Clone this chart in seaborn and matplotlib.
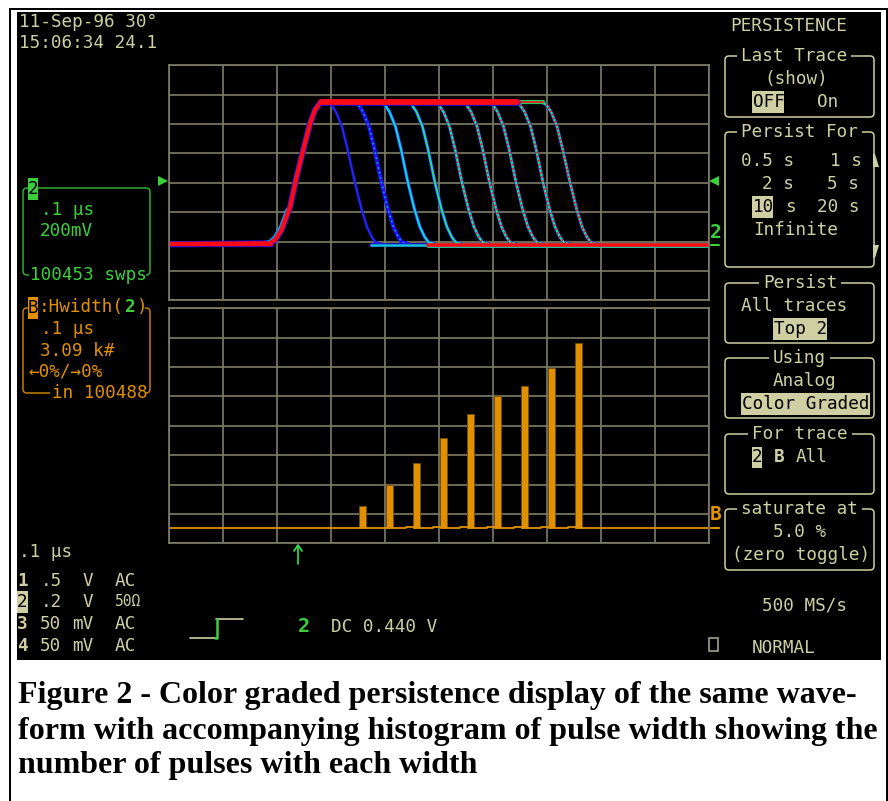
import seaborn as sns
import matplotlib
matplotlib.use('Agg')
import matplotlib.pyplot as plt
from matplotlib.patches import Rectangle, FancyBboxPatch, Polygon

# screen values: time in ns (0.1 us/div), trace in mV (200 mV/div), histogram in counts (3.09 k/div)
rise_ns = [0, 188, 197, 209, 225, 237, 250, 262, 271, 280, 290]
rise_mv = [0, 7, 29, 97, 256, 460, 653, 823, 914, 959, 968]

fall_mv = [964, 950, 900, 800, 650, 420, 240, 120, 50, 15, 0]
fall_ns = [
    [296, 301, 310, 321, 331, 345, 357, 367, 376, 383, 395],
    [345, 351, 360, 371, 381, 394, 406, 416, 425, 432, 444],
    [394, 400, 409, 420, 430, 443, 455, 465, 474, 481, 493],
    [444, 450, 459, 470, 480, 493, 505, 515, 524, 531, 543],
    [494, 500, 509, 520, 530, 543, 555, 565, 574, 581, 593],
    [545, 551, 560, 571, 581, 594, 606, 616, 625, 632, 644],
    [594, 600, 609, 620, 630, 643, 655, 665, 674, 681, 693],
    [644, 650, 659, 670, 680, 693, 705, 715, 724, 731, 743],
    [692, 699, 708, 719, 729, 743, 755, 765, 774, 781, 793],
]
halo_ns = [170, 188, 197, 209, 220]
halo_mv = [0, 14, 45, 120, 230]
top_ns = [283, 644]
top_end_ns = [644, 692]
base_left_ns = [0, 190]
base_mid_ns = [375, 480]
base_right_ns = [480, 1000]

bar_ns = [359, 409, 459, 509, 559, 609, 659, 709, 759]
bar_counts = [2350, 4510, 6890, 9460, 12000, 13870, 14990, 16840, 19500]
floor_ns = [0, 439, 439, 454, 454, 489, 489, 504, 504, 539, 539, 554, 554, 589, 589, 604, 604,
            639, 639, 654, 654, 689, 689, 704, 704, 739, 739, 754, 754, 1000]
floor_counts = [0, 0, 100, 100, 0, 0, 100, 100, 0, 0, 100, 100, 0, 0, 100, 100, 0,
                0, 100, 100, 0, 0, 100, 100, 0, 0, 100, 100, 0, 0]

# colour grade layers for each falling edge
grades = [
    [('#2a10e8', 1.9, '-'), ('#1040f0', 0.6, '-')],
    [('#1a10f0', 2.9, '-'), ('#10a0f0', 1.2, (0, (1, 2)))],
    [('#1a20f0', 2.6, '-'), ('#10d0e0', 1.6, '-'), ('#30e060', 0.7, (0, (1, 2)))],
    [('#1a20f0', 2.5, '-'), ('#10d0d0', 1.6, '-'), ('#50e030', 1.0, (0, (1, 1)))],
    [('#1a20f0', 2.5, '-'), ('#20e090', 1.6, '-'), ('#f01010', 1.1, (0, (1, 2)))],
    [('#1a20f0', 2.5, '-'), ('#20e090', 1.6, '-'), ('#f01010', 1.2, (0, (1, 1.5)))],
    [('#1a20f0', 2.5, '-'), ('#20e090', 1.6, '-'), ('#f01010', 1.2, (0, (1, 1.5)))],
    [('#1a20f0', 2.5, '-'), ('#20e090', 1.6, '-'), ('#f01010', 1.2, (0, (1, 1.5)))],
    [('#1a20f0', 2.5, '-'), ('#20e090', 1.6, '-'), ('#f01010', 1.3, (0, (1, 1.1)))],
]

KHAKI = '#cfcfa4'
GREEN = '#3ccf3c'
ORANGE = '#e09000'
GRID = '#7f7e66'
RED = '#fa0a14'
BLUE = '#2010e0'

sns.set_theme(style='dark', rc={'axes.facecolor': 'black', 'axes.grid': True, 'grid.color': GRID,
                                'grid.linewidth': 1.2, 'axes.edgecolor': GRID, 'axes.linewidth': 1.2})
plt.rcParams['font.family'] = ['DejaVu Sans Mono']

fig = plt.figure(figsize=(8.88, 8.01), dpi=100, facecolor='white')
W, H = 888.0, 801.0

ov = fig.add_axes([0, 0, 1, 1], zorder=0)
ov.set_xlim(0, W)
ov.set_ylim(H, 0)
ov.axis('off')
ov.add_patch(Rectangle((9, 8), 879, 800, fc='black', ec='none'))
ov.add_patch(Rectangle((11, 10), 875, 800, fc='white', ec='none'))
ov.add_patch(Rectangle((17, 12), 864, 648, fc='black', ec='none'))


def panel(left, top, right, bottom):
    ax = fig.add_axes([left / W, 1 - bottom / H, (right - left) / W, (bottom - top) / H], zorder=1)
    ax.tick_params(length=0, labelbottom=False, labelleft=False)
    ax.set_axisbelow(True)
    return ax


def trace(ax, xs, ys, color, lw, ls='-'):
    sns.lineplot(x=xs, y=ys, color=color, linewidth=lw, linestyle=ls, sort=False,
                 estimator=None, errorbar=None, ax=ax)


# upper panel, persistence traces
up = panel(168.5, 65, 709, 300.3)
up.set_xlim(0, 1000)
up.set_ylim(-381, 1220)
up.set_xticks(range(0, 1001, 100))
up.set_yticks([-381 + 200 * k for k in range(9)])

for xs, layers in zip(fall_ns, grades):
    for color, lw, ls in layers:
        trace(up, xs, fall_mv, color, lw, ls)
trace(up, rise_ns, rise_mv, BLUE, 4.4)
trace(up, halo_ns, halo_mv, '#1090f0', 3.5)
trace(up, rise_ns, rise_mv, RED, 3.2)
trace(up, top_end_ns, [968, 968], '#20d060', 3.0)
trace(up, top_end_ns, [968, 968], RED, 1.2)
trace(up, top_ns, [968, 968], BLUE, 4.8)
trace(up, top_ns, [966, 966], RED, 4.2)
trace(up, base_mid_ns, [-6, -6], BLUE, 2.6)
trace(up, base_mid_ns, [-4, -4], '#10c0d0', 1.8)
trace(up, base_left_ns, [0, 0], BLUE, 3.8)
trace(up, base_left_ns, [0, 0], RED, 3.2)
trace(up, base_right_ns, [-4, -4], '#20c0a0', 3.6)
trace(up, base_right_ns, [-3, -3], RED, 2.6)

# lower panel, pulse width histogram
lo = panel(168.5, 308.3, 709, 543.3)
sns.barplot(x=bar_ns, y=bar_counts, native_scale=True, width=0.24, color=ORANGE, saturation=1,
            edgecolor='#7a5000', linewidth=0.6, errorbar=None, ax=lo)
trace(lo, floor_ns, floor_counts, ORANGE, 1.3)
lo.set_xlim(0, 1000)
lo.set_ylim(-1577, 23122)
lo.set_xticks(range(0, 1001, 100))
lo.set_yticks([-1577 + 3090 * k for k in range(8)] + [23122])
lo.grid(True)
lo.set_xlabel('')
lo.set_ylabel('')
lo.tick_params(length=0, labelbottom=False, labelleft=False)


def txt(x, y, s, color=KHAKI, size=12.7, **kw):
    opts = dict(ha='left', va='center', color=color, fontsize=size)
    if kw.pop('mask', False):
        opts['bbox'] = dict(boxstyle='square,pad=0.22', fc='black', ec='none')
    opts.update(kw)
    ov.text(x, y, s, **opts)


def hi(x0, x1, y, s, fill=KHAKI, size=12.7, tx=None):
    # inverted menu entry, a filled block with dark text
    ov.add_patch(Rectangle((x0, y - 11), x1 - x0, 22, fc=fill, ec='none'))
    ov.text(x0 + 0.5 if tx is None else tx, y, s, ha='left', va='center', color='black', fontsize=size)


def box(x0, y0, x1, y1, color=KHAKI):
    ov.add_patch(FancyBboxPatch((x0, y0), x1 - x0, y1 - y0, boxstyle='round,pad=0,rounding_size=4',
                                fc='none', ec=color, lw=1.1, mutation_aspect=1))


# header
txt(19, 22, '11-Sep-96 30°')
txt(19, 43, '15:06:34 24.1')

# menu on the right
txt(730, 26, 'PERSISTENCE')
box(725, 56, 874, 117)
txt(741, 56, 'Last Trace', mask=True)
txt(764, 79, '(show)')
hi(752, 784, 102, 'OFF')
txt(817, 102, 'On')

box(725, 132, 874, 267)
txt(741, 132, 'Persist For', mask=True)
txt(741, 161, '0.5 s')
txt(830, 161, '1 s')
txt(762, 184, '2 s')
txt(827, 184, '5 s')
hi(752, 773, 207, '10')
txt(785, 207, 's')
txt(817, 207, '20 s')
txt(753, 230, 'Infinite')
ov.add_patch(Polygon([(873, 154), (875, 154), (879, 167), (873, 167)], fc=KHAKI, ec='none'))
ov.add_patch(Polygon([(873, 245), (879, 245), (875, 258), (873, 258)], fc=KHAKI, ec='none'))

box(725, 283, 874, 343)
txt(763, 283, 'Persist', mask=True)
txt(741, 306, 'All traces')
hi(773, 827, 329, 'Top 2')

box(725, 358, 874, 418)
txt(773, 358, 'Using', mask=True)
txt(773, 381, 'Analog')
hi(741, 870, 404, 'Color Graded', tx=742)

box(725, 434, 874, 494)
txt(752, 434, 'For trace', mask=True)
hi(752, 762, 457, '2', tx=751.5)
txt(774, 457, 'B', fontweight='bold')
txt(796, 457, 'All')

box(725, 509, 874, 570)
txt(741, 509, 'saturate at', mask=True)
txt(773, 532, '5.0 %')
txt(732, 555, '(zero toggle)')

txt(762, 605, '500 MS/s')
ov.add_patch(Rectangle((708.5, 638), 9, 13, fc='none', ec='#a0a090', lw=1.2))
txt(752, 648, 'NORMAL')

# trace markers beside the grid
ov.add_patch(Polygon([(158, 176), (158, 186), (168, 181)], fc=GREEN, ec='none'))
ov.add_patch(Polygon([(719, 176), (719, 186), (709, 181)], fc=GREEN, ec='none'))
txt(709.5, 232, '2', color=GREEN, fontweight='bold', size=14)
ov.plot([711, 719], [245, 245], color=GREEN, lw=1.5)
txt(709.5, 515, 'B', color=ORANGE, fontweight='bold', size=14)
ov.plot([711, 719], [528, 528], color=ORANGE, lw=1.5)
ov.plot([298, 298], [547, 564], color='#30e850', lw=1.2)
ov.plot([294, 298, 302], [551, 545, 551], color='#30e850', lw=1.2)

# green channel box
box(23, 188, 150, 275, color='#33aa33')
ov.add_patch(Rectangle((29, 268), 117, 14, fc='black', ec='none'))
txt(30, 275, '100453 swps', color=GREEN)
hi(28, 38, 189, '2', fill=GREEN, tx=27.5)
txt(41, 210, '.1 μs', color=GREEN)
txt(40, 231, '200mV', color=GREEN)

# orange math box
box(23, 308, 150, 393, color='#c47e00')
ov.add_patch(Rectangle((38, 300), 107, 14, fc='black', ec='none'))
ov.add_patch(Rectangle((50, 386), 96, 14, fc='black', ec='none'))
hi(28, 38, 308, 'B', fill=ORANGE, tx=27.5)
txt(39, 307, ':Hwidth(', color=ORANGE)
txt(125, 307, '2', color=GREEN, fontweight='bold')
txt(136, 307, ')', color=ORANGE)
txt(41, 329, '.1 μs', color=ORANGE)
txt(40, 351, '3.09 k#', color=ORANGE)
txt(28, 372, '←0%/→0%', color=ORANGE)
txt(52, 393, 'in 100488', color=ORANGE)

# bottom left readout
txt(19, 552, '.1 μs')
rows = [(581, '1', '.5', 'V', 'AC'), (602, '2', '.2', 'V', '50Ω'),
        (624, '3', '50', 'mV', 'AC'), (646, '4', '50', 'mV', 'AC')]
for y, num, val, unit, cpl in rows:
    if num == '2':
        hi(17, 28, y, num, tx=17)
    else:
        txt(17, y, num, fontweight='bold')
    txt(41 if val.startswith('.') else 40, y, val)
    txt(83 if unit == 'V' else 72, y, unit)
    txt(115, y, cpl, size=12.7 if cpl == 'AC' else 10.5)

# trigger icon
ov.plot([190, 215], [637.5, 637.5], color=KHAKI, lw=1.2)
ov.plot([216, 243], [618.5, 618.5], color=KHAKI, lw=1.2)
ov.plot([215, 217, 217], [637.5, 637.5, 618.5], color=GREEN, lw=1.8)
txt(298, 627, '2', color=GREEN, fontweight='bold', size=14.5)
txt(331, 627, 'DC 0.440 V')

# caption
caption = ['Figure 2 - Color graded persistence display of the same wave-',
           'form with accompanying histogram of pulse width showing the',
           'number of pulses with each width']
for y, line in zip([696, 731, 766], caption):
    ov.text(18, y, line, ha='left', va='center', color='black', fontsize=23,
            family='Liberation Serif', fontweight='bold')

fig.savefig('out.png', dpi=100)
